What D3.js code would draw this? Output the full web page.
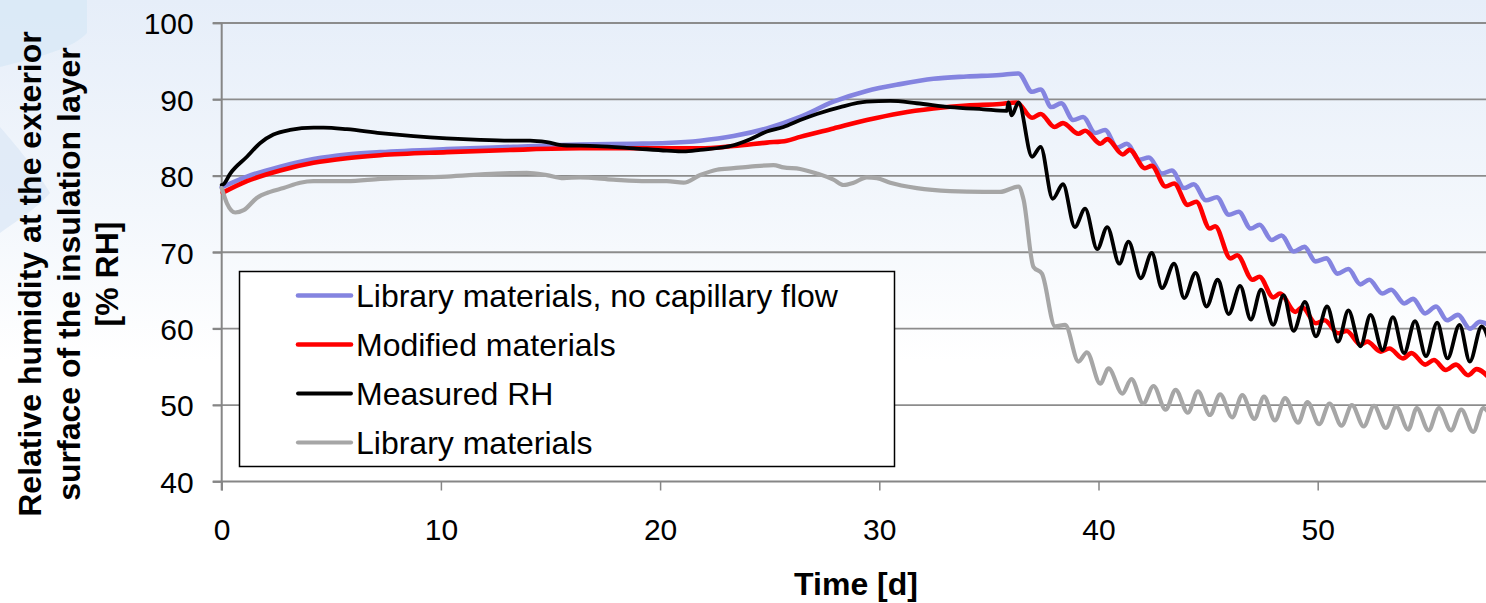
<!DOCTYPE html>
<html>
<head>
<meta charset="utf-8">
<script src="https://cdn.jsdelivr.net/npm/d3@7"></script>
<style>
  html, body { margin: 0; padding: 0; background: #fff; }
  svg { display: block; font-family: "Liberation Sans", Arial, sans-serif; }
</style>
</head>
<body>
<svg id="chart"></svg>
<script>
// Chart size
const width = 1486;
const height = 603;

// Data: [time in days, relative humidity %]
const libNoCapillary = [
  [0, 78.5], [1.15, 79.9], [2.67, 81.2], [4.19, 82.2], [5.71, 82.8], [7.23, 83.1],
  [10.27, 83.5], [13.3, 83.8], [16.35, 84.1], [18.8, 84.2], [20.3, 84.3], [21.83, 84.6],
  [23.35, 85.2], [24.87, 86.2], [26.39, 87.7], [27.91, 89.7], [29.43, 91.1], [30.95, 92.0],
  [32.47, 92.7], [33.99, 93.0], [35.51, 93.2], [36.35, 93.4],
  [36.97, 91.0], [37.36, 91.3], [37.85, 89.0], [38.3, 89.5], [38.85, 87.3], [39.3, 87.7],
  [39.85, 85.6], [40.3, 86.0], [40.85, 83.7], [41.3, 84.2], [41.85, 82.1], [42.3, 82.4],
  [42.9, 80.3], [43.35, 80.7], [43.9, 78.4], [44.35, 78.9], [44.9, 76.8], [45.4, 77.2],
  [45.95, 74.9], [46.4, 75.3], [46.95, 73.1], [47.35, 73.6], [47.9, 71.6], [48.35, 72.2],
  [48.9, 70.1], [49.4, 70.7], [49.9, 68.8], [50.4, 69.2], [50.9, 67.2], [51.4, 67.8],
  [51.95, 65.8], [52.35, 66.4], [52.95, 64.6], [53.35, 65.1], [53.95, 63.3], [54.35, 63.9],
  [54.9, 62.0], [55.4, 62.9], [55.9, 61.1], [56.4, 61.8], [56.95, 60.0], [57.4, 60.9],
  [58.0, 60.1]
];

const modifiedMaterials = [
  [0.05, 77.8], [1.15, 79.3], [2.67, 80.7], [4.19, 81.7], [5.71, 82.3], [7.23, 82.7],
  [10.27, 83.1], [13.3, 83.4], [16.35, 83.6], [20.91, 83.6], [21.83, 83.6], [23.35, 83.9],
  [24.87, 84.35], [25.78, 84.6], [26.39, 85.1], [27.91, 86.2], [29.43, 87.3], [30.95, 88.2],
  [32.47, 88.8], [33.99, 89.2], [35.51, 89.4], [36.27, 89.6],
  [36.97, 87.6], [37.36, 88.1], [37.99, 86.4], [38.38, 86.9], [39.08, 85.5], [39.39, 85.9],
  [40.09, 84.2], [40.4, 84.8], [41.11, 82.8], [41.42, 83.4], [42.12, 81.0], [42.43, 81.3],
  [43.06, 78.6], [43.45, 79.0], [44.07, 76.2], [44.46, 76.6], [45.08, 73.1], [45.32, 73.4],
  [46.02, 69.2], [46.33, 69.6], [47.03, 66.4], [47.34, 66.8], [47.97, 64.1], [48.28, 64.6],
  [48.98, 62.2], [49.29, 62.8], [49.92, 60.7], [50.31, 61.1], [50.93, 59.4], [51.32, 59.7],
  [51.95, 57.9], [52.26, 58.3], [52.88, 57.0], [53.27, 57.4], [53.89, 56.1], [54.28, 56.8],
  [54.91, 55.3], [55.3, 55.9], [55.84, 54.6], [56.31, 55.3], [56.86, 53.9], [57.25, 54.7],
  [57.9, 53.3]
];

const measuredRH = [
  [0, 78.8], [0.08, 78.9], [0.39, 80.3], [1.15, 82.5], [1.76, 84.3], [2.36, 85.4],
  [3.12, 86.0], [4.19, 86.3], [4.65, 86.3], [5.71, 86.1], [7.23, 85.6], [8.75, 85.2],
  [10.27, 84.9], [11.79, 84.7], [13.3, 84.6], [14.07, 84.6], [14.83, 84.4], [15.59, 84.0],
  [17.1, 83.9], [18.79, 83.6], [20.31, 83.3], [21.07, 83.2], [21.83, 83.4], [23.35, 84.0],
  [24.11, 84.8], [24.87, 85.8], [25.63, 86.4], [26.39, 87.3], [27.15, 88.1], [28.22, 89.0],
  [29.43, 89.7], [30.5, 89.8], [31.71, 89.5], [33.23, 89.0], [34.75, 88.7], [35.82, 88.5],
  [35.89, 89.6], [36.04, 87.9], [36.35, 89.6],
  [36.97, 82.5], [37.36, 83.8], [37.91, 77.0], [38.38, 78.9], [38.92, 73.3], [39.39, 75.7],
  [39.94, 70.4], [40.4, 73.3], [40.95, 68.5], [41.37, 71.4], [41.93, 66.6], [42.43, 69.9],
  [42.9, 65.3], [43.45, 68.5], [43.91, 64.0], [44.43, 67.3], [44.93, 62.9], [45.44, 66.4],
  [45.94, 61.9], [46.46, 65.6], [46.95, 61.2], [47.42, 65.1], [47.97, 60.5], [48.44, 64.4],
  [48.9, 59.7], [49.42, 63.5], [49.92, 59.0], [50.43, 62.9], [50.93, 58.3], [51.4, 62.4],
  [51.95, 57.7], [52.41, 61.8], [52.96, 57.2], [53.43, 61.5], [53.94, 56.8], [54.44, 61.0],
  [54.94, 56.4], [55.45, 60.8], [55.92, 56.1], [56.47, 60.5], [56.94, 55.7], [57.48, 60.3],
  [57.9, 57.5]
];

const libMaterials = [
  [0, 78.4], [0.24, 76.4], [0.62, 75.2], [1.0, 75.5], [1.6, 77.1], [2.21, 77.9],
  [2.82, 78.4], [3.58, 79.1], [4.19, 79.3], [5.71, 79.3], [7.23, 79.6], [10.27, 79.9],
  [12.55, 80.3], [13.92, 80.4], [14.83, 80.1], [15.59, 79.7], [16.35, 79.8], [17.87, 79.5],
  [19.4, 79.3], [20.31, 79.3], [21.07, 79.1], [21.83, 80.1], [22.59, 80.8], [23.35, 81.0],
  [24.11, 81.2], [25.17, 81.4], [25.63, 81.1], [26.39, 80.9], [27.15, 80.3], [27.91, 79.5],
  [28.37, 78.8], [28.83, 79.1], [29.43, 79.8], [29.89, 79.7], [30.5, 79.1], [31.71, 78.4],
  [33.23, 78.0], [34.75, 77.9], [35.51, 77.9], [36.35, 78.6], [36.58, 76.9],
  [37.03, 68.1], [37.42, 67.2], [38.02, 60.3], [38.48, 60.5], [39.09, 55.7], [39.47, 56.9],
  [40.08, 52.8], [40.46, 54.8], [41.09, 51.5], [41.5, 53.4], [42.04, 50.2], [42.51, 52.5],
  [43.06, 49.4], [43.52, 52.0], [44.07, 49.0], [44.54, 51.8], [45.08, 48.7], [45.55, 51.4],
  [46.1, 48.4], [46.56, 51.3], [47.11, 48.2], [47.55, 51.1], [48.05, 48.0], [48.51, 50.9],
  [49.11, 47.7], [49.53, 50.4], [50.07, 47.5], [50.54, 50.2], [51.09, 47.3], [51.56, 50.0],
  [52.1, 47.2], [52.57, 49.9], [53.11, 47.0], [53.58, 49.8], [54.13, 46.8], [54.52, 49.6],
  [55.06, 46.7], [55.53, 49.6], [56.08, 46.7], [56.55, 49.4], [57.09, 46.5], [57.56, 49.6],
  [57.9, 48.5]
];

const seriesNames = ["Library materials, no capillary flow", "Modified materials", "Measured RH", "Library materials"];
const seriesColors = ["#8484e0", "#ff0000", "#000000", "#a6a6a6"];
const seriesWidths = [4.6, 4.6, 3.8, 4.2];
const xTicks = [0, 10, 20, 30, 40, 50];
const yTicks = [40, 50, 60, 70, 80, 90, 100];

// Plot geometry
const plotLeft = 221.7;
const plotTop = 23;
const plotBottom = 481.5;
const dayWidth = 21.92;

const x = d3.scaleLinear().domain([0, 60]).range([plotLeft, plotLeft + 60 * dayWidth]);
const y = d3.scaleLinear().domain([40, 100]).range([plotBottom, plotTop]);

const svg = d3.select("#chart")
    .attr("width", width)
    .attr("height", height)
    .attr("viewBox", [0, 0, width, height]);

// Background -----------------------------------------------------------------
const defs = svg.append("defs");
const grad = defs.append("linearGradient")
    .attr("id", "bg").attr("x1", 0).attr("y1", 0).attr("x2", 0).attr("y2", 1);
grad.append("stop").attr("offset", "0%").attr("stop-color", "#e6eef9");
grad.append("stop").attr("offset", "35%").attr("stop-color", "#f3f7fc");
grad.append("stop").attr("offset", "60%").attr("stop-color", "#ffffff");

svg.append("rect").attr("width", width).attr("height", height).attr("fill", "url(#bg)");
svg.append("path")
    .attr("d", "M0,0 L87,0 L87,33 C75,45 60,52 0,67 Z")
    .attr("fill", "#d8e8f6").attr("opacity", 0.8);
svg.append("path")
    .attr("d", "M0,127 C20,150 40,175 50,193 C35,210 15,222 0,233 Z")
    .attr("fill", "#dde9f6").attr("opacity", 0.8);

// Grid and axes --------------------------------------------------------------
const gridColor = "#8c8c8c";

svg.append("g")
    .selectAll("line")
    .data(yTicks.filter(d => d > 40))
    .join("line")
        .attr("x1", plotLeft - 9)
        .attr("x2", x(60))
        .attr("y1", d => y(d))
        .attr("y2", d => y(d))
        .attr("stroke", gridColor)
        .attr("stroke-width", 1.8);

const xAxis = svg.append("g")
    .attr("transform", `translate(0,${plotBottom})`)
    .call(d3.axisBottom(x).tickValues(xTicks).tickSize(9).tickPadding(10).tickFormat(d3.format("d")));
xAxis.select(".domain").attr("stroke", "#868686").attr("stroke-width", 2)
    .attr("d", `M${plotLeft - 9},0H${x(60)}`);
xAxis.selectAll(".tick line").attr("stroke", "#868686").attr("stroke-width", 1.5);
xAxis.selectAll(".tick text")
    .attr("font-family", "Liberation Sans, Arial, sans-serif")
    .attr("font-size", 30)
    .attr("fill", "#000")
    .attr("y", 58).attr("dy", 0);

const yAxis = svg.append("g")
    .attr("transform", `translate(${plotLeft},0)`)
    .call(d3.axisLeft(y).tickValues(yTicks).tickSize(9).tickPadding(19).tickFormat(d3.format("d")));
yAxis.select(".domain").attr("stroke", "#868686").attr("stroke-width", 2)
    .attr("d", `M0,${plotTop}V${plotBottom + 9}`);
yAxis.selectAll(".tick line").attr("stroke", "#868686").attr("stroke-width", 1.8);
yAxis.selectAll(".tick text")
    .attr("font-family", "Liberation Sans, Arial, sans-serif")
    .attr("font-size", 30)
    .attr("fill", "#000")
    .attr("dy", "0.36em");

// Series ---------------------------------------------------------------------
const line = d3.line()
    .x(d => x(d[0]))
    .y(d => y(d[1]))
    .curve(d3.curveMonotoneX);

const allSeries = [libNoCapillary, modifiedMaterials, measuredRH, libMaterials];

svg.append("g")
    .selectAll("path")
    .data(allSeries)
    .join("path")
        .attr("d", line)
        .attr("fill", "none")
        .attr("stroke", (d, i) => seriesColors[i])
        .attr("stroke-width", (d, i) => seriesWidths[i])
        .attr("stroke-linejoin", "round")
        .attr("stroke-linecap", "round");

// Legend ---------------------------------------------------------------------
const legend = svg.append("g");
legend.append("rect")
    .attr("x", 239.5).attr("y", 271.5)
    .attr("width", 655).attr("height", 195)
    .attr("fill", "#fff")
    .attr("stroke", "#000")
    .attr("stroke-width", 1.5);

const legendRows = legend.selectAll("g")
    .data(seriesNames)
    .join("g")
        .attr("transform", (d, i) => `translate(0,${295.5 + i * 49})`);

legendRows.append("line")
    .attr("x1", 298).attr("x2", 351)
    .attr("stroke", (d, i) => seriesColors[i])
    .attr("stroke-width", (d, i) => seriesWidths[i])
    .attr("stroke-linecap", "round");

legendRows.append("text")
    .attr("x", 356)
    .attr("dy", "0.35em")
    .attr("font-size", 32)
    .attr("fill", "#000")
    .text(d => d);

// Axis titles ----------------------------------------------------------------
svg.append("text")
    .attr("x", 856).attr("y", 595)
    .attr("text-anchor", "middle")
    .attr("font-size", 32)
    .attr("font-weight", "bold")
    .text("Time [d]");

const yTitleLines = ["Relative humidity at the exterior", "surface of the insulation layer", "[% RH]"];
svg.append("g")
    .selectAll("text")
    .data(yTitleLines)
    .join("text")
        .attr("transform", (d, i) => `translate(${30 + i * 38.5},274) rotate(-90)`)
        .attr("text-anchor", "middle")
        .attr("dy", "0.35em")
        .attr("font-size", 32)
        .attr("font-weight", "bold")
        .text(d => d);
</script>
</body>
</html>
